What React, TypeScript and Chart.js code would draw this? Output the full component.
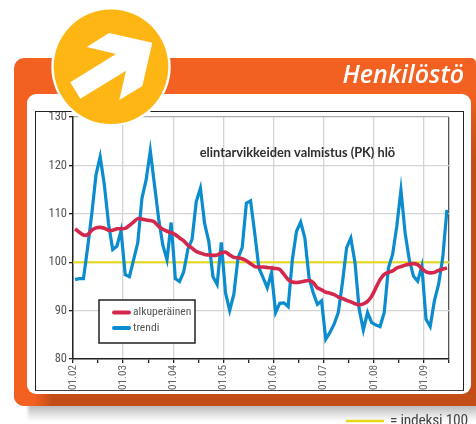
import React, { useEffect, useRef } from "react";
import { Chart, registerables } from "chart.js";

Chart.register(...registerables);

const yearLabels = ["01.02", "01.03", "01.04", "01.05", "01.06", "01.07", "01.08", "01.09"];
const alkuperainen = [
  106.9, 106.2, 105.6, 105.7, 106.6, 107.1, 107.2, 107, 106.6, 106.6, 106.9, 106.9, 107, 107.6, 108.3, 109, 108.9, 108.7,
  108.6, 108.3, 107.4, 106.8, 106.4, 106.1, 105.7, 105, 104.4, 103.5, 102.9, 102.2, 101.9, 101.6, 101.5, 101.4, 101.5, 101.9,
  102.1, 101.5, 101, 100.9, 100.7, 100.3, 99.7, 99.1, 99, 99, 98.9, 98.8, 98.7, 98.5, 97.5, 96.4, 95.9, 95.8,
  95.9, 96.1, 96.2, 95.8, 94.7, 94.3, 93.8, 93.6, 93.3, 92.8, 92.5, 92.1, 91.8, 91.4, 91.2, 91.4, 91.9, 93,
  94.7, 96.4, 97.5, 97.9, 98.2, 98.8, 99.1, 99.4, 99.6, 99.7, 99.5, 98.7, 98, 97.8, 97.9, 98.3, 98.6, 98.8,
];
const trendi = [
  96.4, 96.6, 96.6, 103, 110, 118, 121.8, 116, 108, 102.6, 103.3, 106.5, 97.4, 97, 100.5, 104, 113.2, 117,
  123, 116, 109, 103.5, 100.5, 108.2, 96.6, 96, 98, 102.7, 104.7, 112.5, 115.3, 108, 104.3, 97, 95.4, 104.1,
  93.7, 90, 93.4, 100.9, 103, 112.2, 112.7, 106, 98.8, 96.8, 94.7, 97.8, 89.6, 91.5, 91.6, 90.8, 100.5, 106.4,
  108.3, 105, 96.8, 93.7, 91.3, 92, 84.1, 85.5, 87.2, 89.6, 95.8, 103, 105, 99.9, 90.3, 86, 89.6, 87.5,
  87, 86.7, 89.6, 98.8, 101.6, 107.4, 114.9, 106, 100.5, 97.1, 96.1, 99.2, 88.2, 86.7, 92, 95.4, 100.9, 110.8,
];
const indeksi = [100, 100];
const monthsTotal = 90;
const chartTitle = "elintarvikkeiden valmistus (PK) hlö";
const headerText = "Henkilöstö";
const footerText = "= indeksi 100";
const NARROW = '"Roboto Condensed", Roboto, sans-serif';

const overlay = {
  id: "overlay",
  afterDraw(chart: any) {
    const { ctx } = chart;
    ctx.save();
    ctx.fillStyle = "#2e2e2e";
    ctx.font = `bold 12.8px Lato, sans-serif`;
    ctx.textAlign = "center";
    ctx.textBaseline = "middle";
    ctx.fillText(chartTitle, 261.5, 41);
    // legend
    ctx.fillStyle = "#fff";
    ctx.strokeStyle = "#222";
    ctx.lineWidth = 1.5;
    ctx.fillRect(63, 188, 96, 43);
    ctx.strokeRect(63, 188, 96, 43);
    const items = [chart.data.datasets[0], chart.data.datasets[1]];
    items.forEach((d: any, i: number) => {
      const y = 200.5 + i * 15.5;
      ctx.strokeStyle = d.borderColor;
      ctx.lineWidth = 4;
      ctx.lineCap = "round";
      ctx.beginPath();
      ctx.moveTo(78, y);
      ctx.lineTo(93, y);
      ctx.stroke();
      ctx.fillStyle = "#555";
      ctx.font = `11.6px ${NARROW}`;
      ctx.textAlign = "left";
      ctx.fillText(d.label, 97, y);
    });
    ctx.restore();
  },
};

export default function App() {
  const ref = useRef<HTMLCanvasElement>(null);
  useEffect(() => {
    const toPts = (a: number[]) => a.map((y, i) => ({ x: i + 0.5, y }));
    const chart = new Chart(ref.current!, {
      type: "line",
      data: {
        datasets: [
          { label: "alkuperäinen", data: toPts(alkuperainen), borderColor: "#d3274b", borderWidth: 3.6, pointRadius: 0, tension: 0.2 },
          { label: "trendi", data: toPts(trendi), borderColor: "#0a8ccf", borderWidth: 3.2, pointRadius: 0, tension: 0 },
          { label: "indeksi 100", data: [{ x: 0, y: indeksi[0] }, { x: monthsTotal, y: indeksi[1] }], borderColor: "#e6d817", borderWidth: 2, pointRadius: 0 },
        ],
      },
      plugins: [overlay],
      options: {
        animation: false,
        responsive: false,
        layout: { padding: { left: 0, right: 14, top: 5, bottom: 0 } },
        plugins: { legend: { display: false }, title: { display: false }, tooltip: { enabled: false } },
        scales: {
          x: {
            type: "linear",
            min: 0,
            max: monthsTotal,
            afterBuildTicks(scale: any) {
              const t = [];
              for (let v = 0; v <= monthsTotal; v += 6) t.push({ value: v });
              scale.ticks = t;
            },
            afterFit(scale: any) {
              scale.height = 31;
              scale.paddingLeft = 0;
              scale.paddingRight = 0;
            },
            border: { color: "#222", width: 1.5 },
            grid: {
              lineWidth: 1.3,
              tickLength: 4,
              tickColor: "#222",
              color: (c: any) => {
                const v = c.tick?.value;
                if (v === monthsTotal) return "#555";
                return v % 12 === 0 ? "#d4d4d4" : "rgba(0,0,0,0)";
              },
            },
            ticks: {
              autoSkip: false,
              maxRotation: 90,
              minRotation: 90,
              padding: 2,
              color: "#666",
              font: { family: NARROW, size: 11.2 },
              callback: (v: any) => (Number(v) % 12 === 0 ? yearLabels[Number(v) / 12] ?? "" : ""),
            },
          },
          y: {
            min: 80,
            max: 130,
            afterFit(scale: any) {
              scale.width = 37;
              scale.paddingTop = 0;
              scale.paddingBottom = 0;
            },
            border: { color: "#222", width: 1.5 },
            grid: {
              lineWidth: 1.3,
              tickLength: 4,
              tickColor: "#222",
              color: (c: any) => (c.tick?.value === 130 ? "#aaa" : "#d4d4d4"),
            },
            ticks: { stepSize: 10, padding: 2, color: "#555", font: { family: NARROW, size: 12.5 } },
          },
        },
      },
    } as any);
    return () => chart.destroy();
  }, []);

  const abs = (s: React.CSSProperties): React.CSSProperties => ({ position: "absolute", ...s });
  return (
    <div style={abs({ left: 0, top: 0, width: 476, height: 424, overflow: "hidden", background: "#fff" })}>
      <div style={abs({ left: 28, top: 400, width: 460, height: 22, filter: "blur(1.5px)", background: "linear-gradient(#a8a8a8 0%, #bdbdbd 30%, #eee 78%, #fff 100%)" })} />
      <div style={abs({ left: 14, top: 58, width: 462, height: 348, background: "#f26122", borderRadius: "10px 5px 0 10px" })} />
      <div style={abs({ left: 14, top: 392, width: 462, height: 14, borderRadius: "0 0 0 10px", background: "linear-gradient(90deg, #f26122 0, #f26122 20px, #c24d17 38px)" })} />
      <div style={abs({ left: 468, top: 94, width: 8, height: 300, background: "linear-gradient(#f26122 0, #d8571c 30px, #c24d17 70px)" })} />
      <div style={abs({ left: 27, top: 94, width: 444, height: 300, background: "#fff", borderRadius: 9 })} />
      <div style={abs({ left: 35, top: 111, width: 427, height: 278, border: "1.5px solid #222", borderBottomColor: "#444" })} />
      <canvas ref={ref} width={427} height={278} style={abs({ left: 36, top: 112, width: 427, height: 278 })} />
      <svg width={476} height={424} style={abs({ left: 0, top: 0 })}>
        <circle cx={111} cy={66.7} r={59.7} fill="#fff" />
        <circle cx={111} cy={66.7} r={57.3} fill="#fdb614" />
        <polygon points="109,33 152.3,42.7 142.3,86 119.3,100 126,70.7 80.3,98.7 70.3,82.3 116,54 86.7,47" fill="#fff" />
        <line x1={346} x2={384} y1={421} y2={421} stroke="#e6d817" strokeWidth={2.5} />
      </svg>
      <div style={abs({ right: 12, top: 57, fontFamily: '"Open Sans", sans-serif', fontStyle: "italic", fontWeight: 600, fontSize: 25, lineHeight: "32px", color: "#fff", whiteSpace: "nowrap" })}>
        {headerText}
      </div>
      <div style={abs({ left: 390, top: 410, fontFamily: NARROW, fontSize: 15.5, letterSpacing: "-0.25px", lineHeight: "20px", color: "#444", whiteSpace: "nowrap" })}>
        {footerText}
      </div>
    </div>
  );
}
